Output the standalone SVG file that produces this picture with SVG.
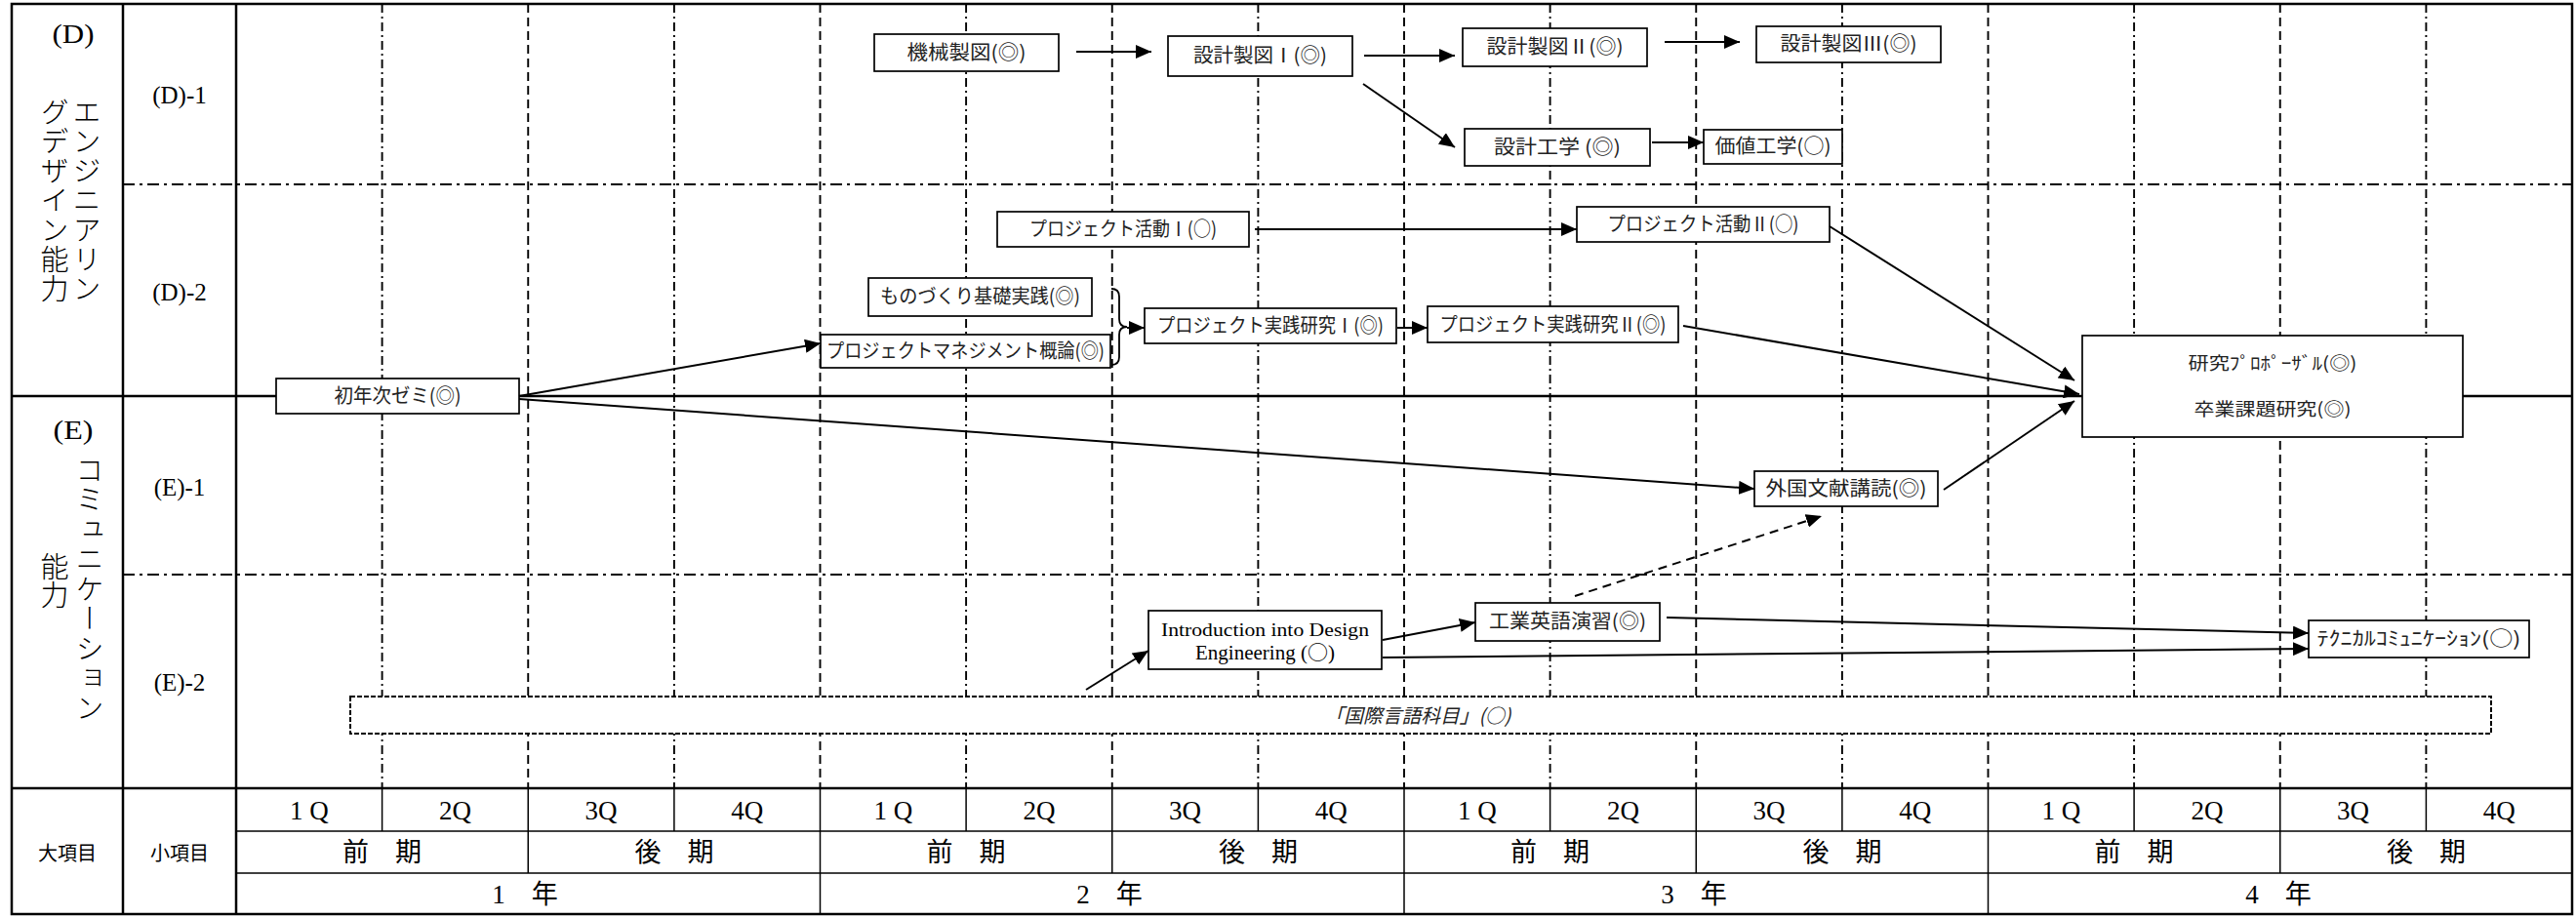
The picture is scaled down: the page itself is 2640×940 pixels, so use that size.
<svg xmlns="http://www.w3.org/2000/svg" width="2640" height="940" viewBox="0 0 2640 940">
<style>
.frame{fill:#fff;stroke:#000;stroke-width:2.5}
.thick{stroke:#000;stroke-width:2.5}
.thin{stroke:#000;stroke-width:1.5}
.dash{stroke:#000;stroke-width:1.9;stroke-dasharray:9 5}
.dashdot{stroke:#000;stroke-width:1.9;stroke-dasharray:9 4 2 4}
.hdd{stroke:#000;stroke-width:1.9;stroke-dasharray:12 5 3 5}
.box{fill:#fff;stroke:#000;stroke-width:1.7}
.dbox{fill:#fff;stroke:#000;stroke-width:2;stroke-dasharray:5 2}
.jp{font-family:"Noto Sans CJK JP",sans-serif;font-size:20px;fill:#222;text-anchor:middle}
.sm{font-size:18px}
.ser{font-family:"Liberation Serif","Noto Sans CJK JP",serif;fill:#000;text-anchor:middle}
.cjk{font-family:"Noto Sans CJK JP",sans-serif}
.vt{font-family:"Noto Sans CJK JP",sans-serif;font-size:29px;font-weight:300;fill:#000;writing-mode:vertical-rl}
.ft{font-family:"Liberation Serif","Noto Sans CJK JP",serif;font-size:27px;fill:#000;text-anchor:middle}
.conn line{stroke:#000;stroke-width:2;fill:none;marker-end:url(#ah)}
</style>
<defs>
<marker id="ah" markerUnits="userSpaceOnUse" markerWidth="16" markerHeight="14" refX="16" refY="7" orient="auto">
<path d="M0,0 L16,7 L0,14 z" fill="#000"/>
</marker>
</defs>
<rect x="0" y="0" width="2640" height="940" fill="#fff"/>
<g id="grid">
<rect class="frame" x="12" y="4" width="2624" height="933"/>
<g id="vgrid">
<line class="dashdot" x1="391.6" y1="4" x2="391.6" y2="808"/>
<line class="dash" x1="541.25" y1="4" x2="541.25" y2="808"/>
<line class="dashdot" x1="690.9" y1="4" x2="690.9" y2="808"/>
<line class="dash" x1="840.5" y1="4" x2="840.5" y2="808"/>
<line class="dashdot" x1="990.1" y1="4" x2="990.1" y2="808"/>
<line class="dash" x1="1139.75" y1="4" x2="1139.75" y2="808"/>
<line class="dashdot" x1="1289.4" y1="4" x2="1289.4" y2="808"/>
<line class="dash" x1="1439" y1="4" x2="1439" y2="808"/>
<line class="dashdot" x1="1588.6" y1="4" x2="1588.6" y2="808"/>
<line class="dash" x1="1738.25" y1="4" x2="1738.25" y2="808"/>
<line class="dashdot" x1="1887.9" y1="4" x2="1887.9" y2="808"/>
<line class="dash" x1="2037.5" y1="4" x2="2037.5" y2="808"/>
<line class="dashdot" x1="2187.1" y1="4" x2="2187.1" y2="808"/>
<line class="dash" x1="2336.75" y1="4" x2="2336.75" y2="808"/>
<line class="dashdot" x1="2486.4" y1="4" x2="2486.4" y2="808"/>
</g>
<line class="hdd" x1="126" y1="189" x2="2636" y2="189"/>
<line class="hdd" x1="126" y1="589" x2="2636" y2="589"/>
<line class="thick" x1="12" y1="406" x2="2636" y2="406"/>
<line class="thick" x1="12" y1="808" x2="2636" y2="808"/>
<line class="thick" x1="126" y1="4" x2="126" y2="937"/>
<line class="thick" x1="242" y1="4" x2="242" y2="937"/>
<line class="thin" x1="242" y1="852" x2="2636" y2="852"/>
<line class="thin" x1="242" y1="895" x2="2636" y2="895"/>
<g id="footer-lines">
<line class="thin" x1="391.6" y1="808" x2="391.6" y2="852"/>
<line class="thin" x1="690.9" y1="808" x2="690.9" y2="852"/>
<line class="thin" x1="990.1" y1="808" x2="990.1" y2="852"/>
<line class="thin" x1="1289.4" y1="808" x2="1289.4" y2="852"/>
<line class="thin" x1="1588.6" y1="808" x2="1588.6" y2="852"/>
<line class="thin" x1="1887.9" y1="808" x2="1887.9" y2="852"/>
<line class="thin" x1="2187.1" y1="808" x2="2187.1" y2="852"/>
<line class="thin" x1="2486.4" y1="808" x2="2486.4" y2="852"/>
<line class="thin" x1="541.25" y1="808" x2="541.25" y2="895"/>
<line class="thin" x1="1139.75" y1="808" x2="1139.75" y2="895"/>
<line class="thin" x1="1738.25" y1="808" x2="1738.25" y2="895"/>
<line class="thin" x1="2336.75" y1="808" x2="2336.75" y2="895"/>
<line class="thin" x1="840.5" y1="808" x2="840.5" y2="937"/>
<line class="thin" x1="1439" y1="808" x2="1439" y2="937"/>
<line class="thin" x1="2037.5" y1="808" x2="2037.5" y2="937"/>
</g>
</g>
<g id="labels">
<text class="ser" x="75" y="44" font-size="28" textLength="43" lengthAdjust="spacingAndGlyphs">(D)</text>
<text class="vt" x="89" y="100" letter-spacing="1.3">エンジニアリン</text>
<text class="vt" x="56" y="100" letter-spacing="1.3">グデザイン能力</text>
<text class="ser" x="75" y="450" font-size="28" textLength="41" lengthAdjust="spacingAndGlyphs">(E)</text>
<text class="vt" x="92" y="467" letter-spacing="1.5">コミュニケーション</text>
<text class="vt" x="56" y="566">能力</text>
<text class="ser" x="184" y="106" font-size="25">(D)-1</text>
<text class="ser" x="184" y="308" font-size="25">(D)-2</text>
<text class="ser" x="184" y="508" font-size="25">(E)-1</text>
<text class="ser" x="184" y="708" font-size="25">(E)-2</text>
<text class="jp" x="69" y="882" style="fill:#000">大項目</text>
<text class="jp" x="184" y="882" style="fill:#000">小項目</text>
</g>
<g id="footer">
<text class="ft" x="316.8" y="840">1 Q</text>
<text class="ft" x="466.4" y="840">2Q</text>
<text class="ft" x="616" y="840">3Q</text>
<text class="ft" x="765.7" y="840">4Q</text>
<text class="ft" x="915.3" y="840">1 Q</text>
<text class="ft" x="1064.9" y="840">2Q</text>
<text class="ft" x="1214.6" y="840">3Q</text>
<text class="ft" x="1364.2" y="840">4Q</text>
<text class="ft" x="1513.8" y="840">1 Q</text>
<text class="ft" x="1663.4" y="840">2Q</text>
<text class="ft" x="1813.1" y="840">3Q</text>
<text class="ft" x="1962.7" y="840">4Q</text>
<text class="ft" x="2112.3" y="840">1 Q</text>
<text class="ft" x="2261.9" y="840">2Q</text>
<text class="ft" x="2411.6" y="840">3Q</text>
<text class="ft" x="2561.2" y="840">4Q</text>
<text class="ft" x="391.6" y="883">前　期</text>
<text class="ft" x="690.9" y="883">後　期</text>
<text class="ft" x="990.1" y="883">前　期</text>
<text class="ft" x="1289.4" y="883">後　期</text>
<text class="ft" x="1588.6" y="883">前　期</text>
<text class="ft" x="1887.9" y="883">後　期</text>
<text class="ft" x="2187.1" y="883">前　期</text>
<text class="ft" x="2486.4" y="883">後　期</text>
<text class="ft" x="538" y="926">1　年</text>
<text class="ft" x="1137" y="926">2　年</text>
<text class="ft" x="1736" y="926">3　年</text>
<text class="ft" x="2335" y="926">4　年</text>
</g>
<g id="n-kokusai">
<rect class="dbox" x="359" y="714" width="2194" height="38"/>
<text class="jp" x="1453" y="741" font-style="italic" font-size="19" textLength="191" lengthAdjust="spacingAndGlyphs">「国際言語科目」(○)</text>
</g>
<g id="n-shonen">
<rect class="box" x="283" y="388" width="249" height="36"/>
<text class="jp" x="407.5" y="413" textLength="130" lengthAdjust="spacingAndGlyphs">初年次ゼミ(◎)</text>
</g>
<g id="n-kikai">
<rect class="box" x="896" y="35" width="189" height="38"/>
<text class="jp" x="990.5" y="61" textLength="122" lengthAdjust="spacingAndGlyphs">機械製図(◎)</text>
</g>
<g id="n-sekkei1">
<rect class="box" x="1197" y="37" width="189" height="41"/>
<text class="jp" x="1291.5" y="64" textLength="137" lengthAdjust="spacingAndGlyphs">設計製図Ⅰ(◎)</text>
</g>
<g id="n-sekkei2">
<rect class="box" x="1499" y="29" width="189" height="39"/>
<text class="jp" x="1593.5" y="55" textLength="140" lengthAdjust="spacingAndGlyphs">設計製図Ⅱ(◎)</text>
</g>
<g id="n-sekkei3">
<rect class="box" x="1800" y="27" width="189" height="37"/>
<text class="jp" x="1894.5" y="52" textLength="140" lengthAdjust="spacingAndGlyphs">設計製図Ⅲ(◎)</text>
</g>
<g id="n-sekkeikogaku">
<rect class="box" x="1501" y="132" width="190" height="38"/>
<text class="jp" x="1596" y="158" textLength="130" lengthAdjust="spacingAndGlyphs">設計工学 (◎)</text>
</g>
<g id="n-kachi">
<rect class="box" x="1746" y="133" width="142" height="35"/>
<text class="jp" x="1817" y="157" textLength="119" lengthAdjust="spacingAndGlyphs">価値工学(○)</text>
</g>
<g id="n-pj1">
<rect class="box" x="1022" y="217" width="258" height="36"/>
<text class="jp" x="1151" y="242" textLength="192" lengthAdjust="spacingAndGlyphs">プロジェクト活動Ⅰ(○)</text>
</g>
<g id="n-pj2">
<rect class="box" x="1616" y="212" width="259" height="36"/>
<text class="jp" x="1745.5" y="237" textLength="196" lengthAdjust="spacingAndGlyphs">プロジェクト活動Ⅱ(○)</text>
</g>
<g id="n-monozukuri">
<rect class="box" x="890" y="285" width="229" height="39"/>
<text class="jp" x="1004.5" y="311" textLength="205" lengthAdjust="spacingAndGlyphs">ものづくり基礎実践(◎)</text>
</g>
<g id="n-pm">
<rect class="box" x="841" y="343" width="297" height="34"/>
<text class="jp" x="989.5" y="367" textLength="285" lengthAdjust="spacingAndGlyphs">プロジェクトマネジメント概論(◎)</text>
</g>
<g id="n-jissen1">
<rect class="box" x="1173" y="316" width="258" height="36"/>
<text class="jp" x="1302" y="341" textLength="232" lengthAdjust="spacingAndGlyphs">プロジェクト実践研究Ⅰ(◎)</text>
</g>
<g id="n-jissen2">
<rect class="box" x="1463" y="314" width="257" height="37"/>
<text class="jp" x="1591.5" y="340" textLength="232" lengthAdjust="spacingAndGlyphs">プロジェクト実践研究Ⅱ(◎)</text>
</g>
<g id="n-sotsugyo">
<rect class="box" x="2134" y="344" width="390" height="104"/>
<text class="jp sm" x="2329" y="379" textLength="173" lengthAdjust="spacingAndGlyphs">研究ﾌﾟﾛﾎﾟｰｻﾞﾙ(◎)</text>
<text class="jp sm" x="2329" y="426" textLength="161" lengthAdjust="spacingAndGlyphs">卒業課題研究(◎)</text>
</g>
<g id="n-gaikoku">
<rect class="box" x="1798" y="483" width="188" height="36"/>
<text class="jp" x="1892" y="508" textLength="165" lengthAdjust="spacingAndGlyphs">外国文献講読(◎)</text>
</g>
<g id="n-intro">
<rect class="box" x="1177" y="626" width="239" height="60"/>
<text class="ser" x="1296.5" y="652" font-size="19" fill="#222" textLength="213" lengthAdjust="spacingAndGlyphs">Introduction into Design</text>
<text class="ser" x="1296.5" y="676" font-size="21" fill="#222" textLength="143" lengthAdjust="spacingAndGlyphs">Engineering (<tspan class="cjk">○</tspan>)</text>
</g>
<g id="n-kogyo">
<rect class="box" x="1512" y="618" width="189" height="39"/>
<text class="jp" x="1606.5" y="644" textLength="161" lengthAdjust="spacingAndGlyphs">工業英語演習(◎)</text>
</g>
<g id="n-tech">
<rect class="box" x="2366" y="636" width="226" height="38"/>
<text class="jp" x="2479" y="662" textLength="209" lengthAdjust="spacingAndGlyphs">ﾃｸﾆｶﾙｺﾐｭﾆｹｰｼｮﾝ(○)</text>
</g>
<g id="connectors" class="conn">
<line x1="1103" y1="53" x2="1180" y2="53"/>
<line x1="1398" y1="57" x2="1491" y2="57"/>
<line x1="1397" y1="86" x2="1491" y2="151"/>
<line x1="1706" y1="43" x2="1783" y2="43"/>
<line x1="1693" y1="146" x2="1746" y2="146"/>
<line x1="1286" y1="235" x2="1616" y2="235"/>
<path d="M1139,296 Q1147,296 1147,304 L1147,327 Q1147,335 1155,335 Q1147,335 1147,343 L1147,366 Q1147,374 1139,374" stroke="#000" stroke-width="1.8" fill="none"/>
<line x1="1155" y1="336" x2="1173" y2="336"/>
<line x1="1432" y1="336" x2="1463" y2="336"/>
<line x1="1725" y1="334" x2="2131" y2="404"/>
<line x1="1875" y1="232" x2="2126" y2="390"/>
<line x1="532" y1="406" x2="841" y2="352"/>
<line x1="532" y1="409" x2="1798" y2="501"/>
<line x1="1992" y1="502" x2="2126" y2="411"/>
<line x1="1614" y1="611" x2="1867" y2="529" stroke-dasharray="9 6"/>
<line x1="1113" y1="707" x2="1177" y2="667"/>
<line x1="1417" y1="656" x2="1512" y2="638"/>
<line x1="1708" y1="633" x2="2366" y2="649"/>
<line x1="1417" y1="674" x2="2366" y2="665"/>
</g>
</svg>
